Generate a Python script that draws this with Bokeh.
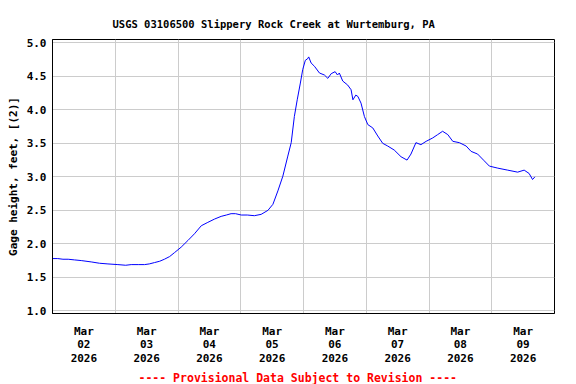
import pandas as pd
from bokeh.plotting import figure
from bokeh.models import FixedTicker, DatetimeTickFormatter, NumeralTickFormatter, Title, Range1d
from bokeh.embed import file_html
from bokeh.resources import INLINE

# ---- data (hours since 2026-03-02 00:00, gage height ft) ----
hours = [0.0, 2.0, 4.0, 6.0, 8.4, 11.0, 14.8, 18.0, 21.2, 25.0, 28.0, 30.1, 33.0, 35.2,
         37.0, 39.0, 41.0, 42.8, 44.8, 46.7, 49.2, 51.8, 54.3, 56.9, 59.4, 62.0, 64.5,
         66.5, 68.3, 70.0, 72.2, 74.5, 77.2, 79.8, 82.4, 84.3, 86.2, 88.1, 90.0, 91.3,
         92.5, 93.6, 94.8, 95.7, 96.7, 97.5, 98.0, 98.9, 100.2, 102.1, 104.0, 105.3,
         106.6, 108.1, 109.0, 109.7, 111.0, 112.9, 114.2, 114.9, 116.0, 116.8, 118.0,
         119.3, 120.6, 122.5, 124.4, 126.3, 128.2, 130.7, 133.3, 135.6, 137.1, 139.0,
         140.9, 142.9, 145.4, 147.3, 149.2, 151.2, 153.1, 155.6, 158.2, 160.1, 162.6,
         165.1, 167.1, 170.3, 174.1, 177.9, 180.4, 182.3, 183.6, 184.5]
gage = [1.78, 1.78, 1.77, 1.77, 1.76, 1.75, 1.73, 1.71, 1.70, 1.69, 1.68, 1.69, 1.69, 1.69,
        1.70, 1.72, 1.74, 1.77, 1.81, 1.87, 1.95, 2.05, 2.15, 2.27, 2.32, 2.37, 2.41,
        2.43, 2.45, 2.45, 2.43, 2.43, 2.42, 2.44, 2.50, 2.59, 2.79, 3.01, 3.31, 3.51,
        3.90, 4.15, 4.40, 4.60, 4.74, 4.76, 4.79, 4.70, 4.65, 4.55, 4.52, 4.47,
        4.54, 4.57, 4.52, 4.55, 4.43, 4.37, 4.30, 4.15, 4.22, 4.20, 4.10,
        3.90, 3.78, 3.73, 3.61, 3.50, 3.46, 3.40, 3.30, 3.25, 3.34, 3.51,
        3.48, 3.53, 3.58, 3.63, 3.68, 3.63, 3.53, 3.51, 3.46, 3.38, 3.34,
        3.24, 3.16, 3.13, 3.10, 3.07, 3.10, 3.05, 2.96, 3.00]
day_labels = ["2026-03-02", "2026-03-03", "2026-03-04", "2026-03-05",
              "2026-03-06", "2026-03-07", "2026-03-08", "2026-03-09"]
y_ticks = [1.0, 1.5, 2.0, 2.5, 3.0, 3.5, 4.0, 4.5, 5.0]
title_text = "USGS 03106500 Slippery Rock Creek at Wurtemburg, PA"
y_label = "Gage height, feet, [(2)]"
footer_text = "---- Provisional Data Subject to Revision ----"

start = pd.Timestamp("2026-03-02")
times = start + pd.to_timedelta(hours, unit="h")

def ms(ts):
    return ts.value / 1e6

FONT = "DejaVu Sans Mono"

p = figure(width=576, height=384, x_axis_type="datetime",
           x_range=Range1d(ms(start), ms(start + pd.Timedelta(days=8))),
           y_range=Range1d(0.96, 5.05),
           output_backend="svg", toolbar_location=None, title=None,
           min_border_left=52, min_border_right=22, min_border_top=39, min_border_bottom=68)

p.line(times, gage, line_color="#0000ff", line_width=1)

# axes
p.outline_line_color = "black"
p.outline_line_width = 1
noon_ticks = [ms(pd.Timestamp(d) + pd.Timedelta(hours=12)) for d in day_labels]
midnight_ticks = [ms(pd.Timestamp(d)) for d in day_labels] + [ms(pd.Timestamp("2026-03-10"))]

fmt = "%b\n%d\n%Y"
p.xaxis.ticker = FixedTicker(ticks=noon_ticks)
p.xaxis.formatter = DatetimeTickFormatter(
    microseconds=fmt, milliseconds=fmt, seconds=fmt, minsec=fmt, minutes=fmt,
    hourmin=fmt, hours=fmt, days=fmt, months=fmt, years=fmt)
p.xgrid.ticker = FixedTicker(ticks=midnight_ticks)
p.yaxis.ticker = FixedTicker(ticks=y_ticks)
p.ygrid.ticker = FixedTicker(ticks=y_ticks)
p.yaxis.formatter = NumeralTickFormatter(format="0.0")

for ax in (p.xaxis[0], p.yaxis[0]):
    ax.major_tick_out = 0
    ax.major_tick_in = 0
    ax.minor_tick_out = 0
    ax.minor_tick_in = 0
    ax.axis_line_color = "black"
    ax.major_label_text_font = FONT
    ax.major_label_text_font_style = "bold"
    ax.major_label_text_font_size = "11px"
    ax.major_label_text_color = "black"

p.xaxis.major_label_standoff = 11
p.xaxis.major_label_text_line_height = 1.06
p.yaxis.major_label_standoff = 6
p.yaxis.axis_label = y_label
p.yaxis.axis_label_text_font = FONT
p.yaxis.axis_label_text_font_style = "bold"
p.yaxis.axis_label_text_font_size = "11px"
p.yaxis.axis_label_text_color = "black"
p.yaxis.axis_label_standoff = 4

p.xgrid.grid_line_color = "#cccccc"
p.ygrid.grid_line_color = "#cccccc"
p.xgrid.grid_line_width = 1
p.ygrid.grid_line_width = 1

# title and footer
p.add_layout(Title(text=title_text, align="left", offset=60, standoff=20,
                   text_font=FONT, text_font_style="bold", text_font_size="10.5px",
                   text_color="black"), "above")
p.add_layout(Title(text=footer_text, align="left", offset=86, standoff=0,
                   text_font=FONT, text_font_style="bold", text_font_size="11.5px",
                   text_color="red"), "below")

open("out.html", "w").write(file_html(p, INLINE))
